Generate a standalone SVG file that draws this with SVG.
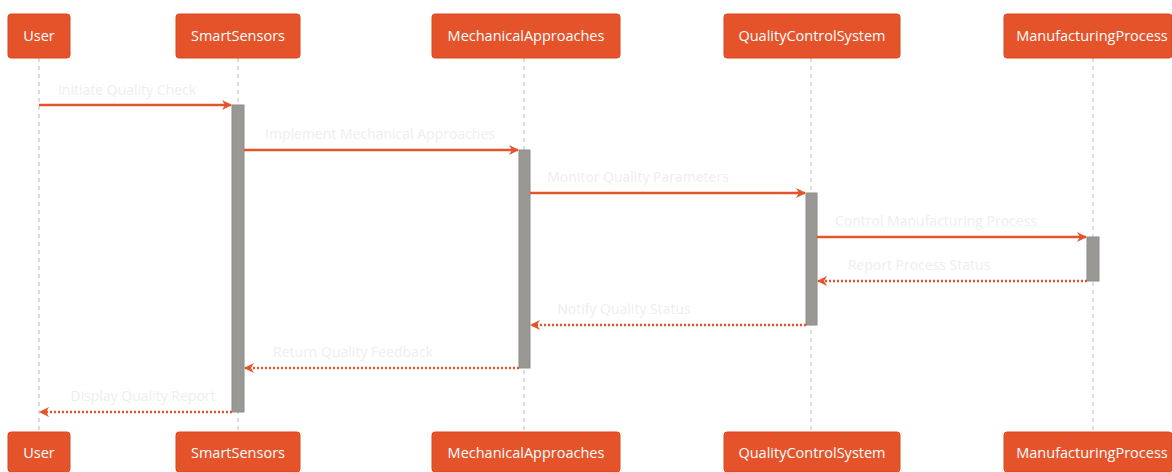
<svg xmlns="http://www.w3.org/2000/svg" width="1172" height="472" viewBox="0 0 1172 472">
<style>
.box{fill:#e5532b;stroke:#d9481f;stroke-width:1}
.pt{font-family:"Open Sans","DejaVu Sans",sans-serif;font-size:14.5px;fill:#ffffff;text-anchor:middle}
.life{stroke:#bbbbbb;stroke-width:1;stroke-dasharray:4,4}
.act{fill:#9a9893;stroke:#8e8c88;stroke-width:1}
.msg{stroke:#e5532b;stroke-width:2.5;fill:none}
.ret{stroke:#e5532b;stroke-width:2.5;fill:none;stroke-dasharray:2,2}
.ml{font-family:"Open Sans","DejaVu Sans",sans-serif;font-size:14px;fill:#eeeeee;text-anchor:middle}
</style>
<defs>
<marker id="ah" viewBox="0 0 10 10" refX="9" refY="5" markerWidth="10" markerHeight="10" orient="auto-start-reverse" markerUnits="userSpaceOnUse"><path d="M0,0 L10,5 L0,10 L3,5 z" fill="#e5532b"/></marker>
</defs>
<g id="lifelines">
<line class="life" x1="39" y1="58" x2="39" y2="432"/>
<line class="life" x1="238" y1="58" x2="238" y2="432"/>
<line class="life" x1="524" y1="58" x2="524" y2="432"/>
<line class="life" x1="811" y1="58" x2="811" y2="432"/>
<line class="life" x1="1093" y1="58" x2="1093" y2="432"/>
</g>
<g id="User">
<rect class="box" x="8" y="14" width="62" height="44" rx="3"/><text class="pt" x="39" y="41">User</text>
<rect class="box" x="8" y="432" width="62" height="40" rx="3"/><text class="pt" x="39" y="458">User</text>
</g>
<g id="SmartSensors">
<rect class="box" x="176" y="14" width="124" height="44" rx="3"/><text class="pt" x="238" y="41">SmartSensors</text>
<rect class="box" x="176" y="432" width="124" height="40" rx="3"/><text class="pt" x="238" y="458">SmartSensors</text>
<rect class="act" x="232" y="105" width="12" height="307"/>
</g>
<g id="MechanicalApproaches">
<rect class="box" x="432" y="14" width="188" height="44" rx="3"/><text class="pt" x="526" y="41">MechanicalApproaches</text>
<rect class="box" x="432" y="432" width="188" height="40" rx="3"/><text class="pt" x="526" y="458">MechanicalApproaches</text>
<rect class="act" x="519" y="150" width="11" height="218"/>
</g>
<g id="QualityControlSystem">
<rect class="box" x="724" y="14" width="176" height="44" rx="3"/><text class="pt" x="812" y="41">QualityControlSystem</text>
<rect class="box" x="724" y="432" width="176" height="40" rx="3"/><text class="pt" x="812" y="458">QualityControlSystem</text>
<rect class="act" x="806" y="193" width="11" height="132"/>
</g>
<g id="ManufacturingProcess">
<rect class="box" x="1004" y="14" width="168" height="44" rx="3"/><text class="pt" x="1092" y="41">ManufacturingProcess</text>
<rect class="box" x="1004" y="432" width="168" height="40" rx="3"/><text class="pt" x="1092" y="458">ManufacturingProcess</text>
<rect class="act" x="1087" y="237" width="12" height="44"/>
</g>
<g id="connectors">
<line class="msg" x1="39" y1="105" x2="231" y2="105" marker-end="url(#ah)"/>
<text class="ml" x="127" y="95">Initiate Quality Check</text>
<line class="msg" x1="244" y1="150" x2="518" y2="150" marker-end="url(#ah)"/>
<text class="ml" x="380" y="139">Implement Mechanical Approaches</text>
<line class="msg" x1="530" y1="193" x2="805" y2="193" marker-end="url(#ah)"/>
<text class="ml" x="638" y="182">Monitor Quality Parameters</text>
<line class="msg" x1="817" y1="237" x2="1086" y2="237" marker-end="url(#ah)"/>
<text class="ml" x="936" y="226">Control Manufacturing Process</text>
<line class="ret" x1="1087" y1="281" x2="818" y2="281" marker-end="url(#ah)"/>
<text class="ml" x="919" y="270">Report Process Status</text>
<line class="ret" x1="806" y1="325" x2="531" y2="325" marker-end="url(#ah)"/>
<text class="ml" x="624" y="314">Notify Quality Status</text>
<line class="ret" x1="519" y1="368" x2="245" y2="368" marker-end="url(#ah)"/>
<text class="ml" x="353" y="357">Return Quality Feedback</text>
<line class="ret" x1="232" y1="412" x2="40" y2="412" marker-end="url(#ah)"/>
<text class="ml" x="143" y="401">Display Quality Report</text>
</g>
</svg>
